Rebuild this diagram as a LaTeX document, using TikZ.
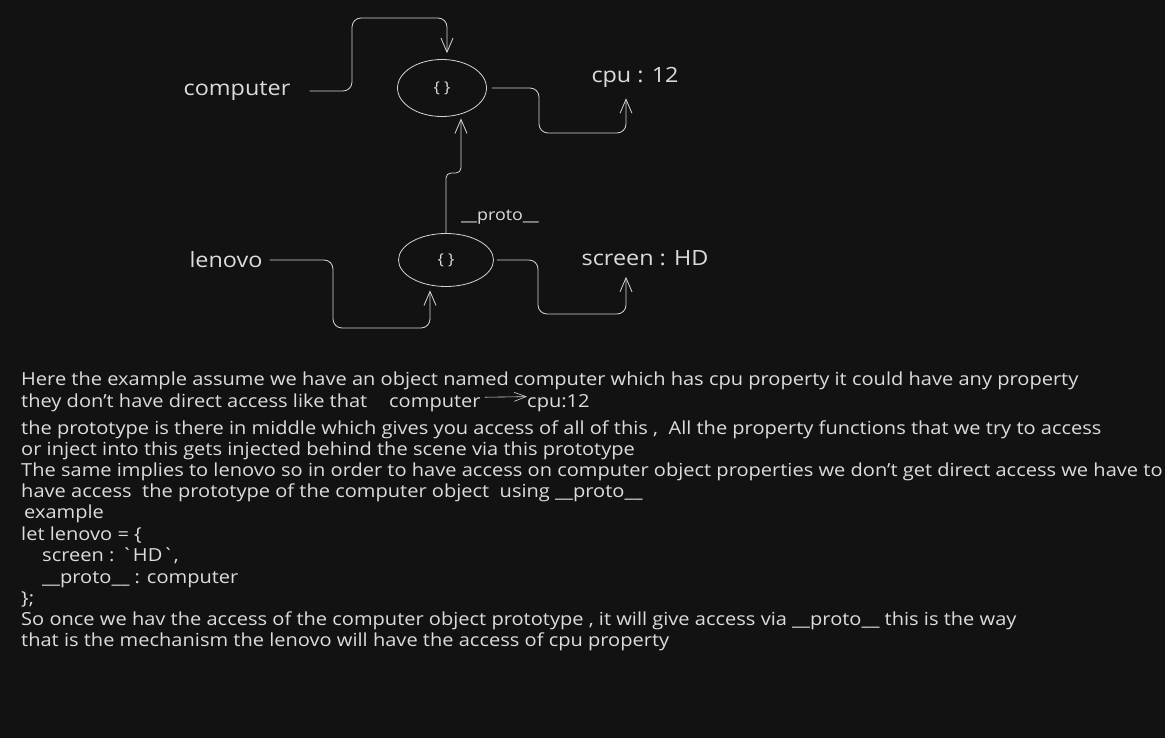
\documentclass[tikz,border=0pt]{standalone}
\usepackage{fontspec}
\setmainfont{Open Sans}[FakeStretch=1.114]
\newfontfamily\rawFont{Open Sans}[FakeStretch=1.114, Ligatures=TeXOff]
\usepackage{tikz}
\usetikzlibrary{shapes.geometric, arrows.meta, positioning}
\definecolor{fondSombre}{HTML}{121212}
\definecolor{traitClair}{HTML}{D4D4D4}
\definecolor{texteClair}{HTML}{DCDCDC}

\begin{document}
\begin{tikzpicture}[
  x=1pt, y=-1pt,
  obj/.style={ellipse, draw=traitClair, line width=0.8pt,
    minimum width=89pt, minimum height=57pt, inner sep=0pt,
    font=\fontsize{15}{17}\selectfont, text=texteClair},
  big/.style={font=\fontsize{21}{25}\selectfont, text=texteClair, inner sep=0pt},
  para/.style={font=\fontsize{18}{21}\selectfont, text=texteClair,
    inner sep=0pt, anchor=base west},
  link/.style={draw=traitClair, line width=0.8pt, rounded corners=9pt,
    -{Straight Barb[length=14pt,width=12pt]}},
  smallLink/.style={draw=traitClair, line width=0.6pt,
    -{Straight Barb[length=12pt,width=9pt]}},
]
\fill[fondSombre] (0,0) rectangle (1165,738);
% the two objects
\node[obj] (compObj) at (442,88) {\{\ \}};
\node[obj, minimum width=95pt, minimum height=53pt] (lenObj) at (446,260) {\{\ \}};
\node[big] (computer) at (237,91)  {computer};
\node[big] (cpu)      at (635,77)  {cpu : 12};
\node[big] (lenovo)   at (226,260) {lenovo};
\node[big] (screen)   at (645,258) {screen : HD};
\node[font=\fontsize{16}{20}\selectfont, text=texteClair, inner sep=0pt]
  (protoLbl) at (500,217) {\_\_proto\_\_};
\draw[link] ([xshift=19pt]computer.east) -| (352,18)
  -| ([xshift=5pt,yshift=6pt]compObj.north);
\draw[link] ([xshift=5pt]compObj.east) -| (539,133)
  -| ([xshift=-9pt,yshift=-11pt]cpu.south);
\draw[link, rounded corners=5pt] (lenObj.north) |- (461,173)
  -- ([xshift=19pt,yshift=-1.5pt]compObj.south);
\draw[link] ([xshift=7pt]lenovo.east) -| (333,328)
  -| ([xshift=-16pt,yshift=-3.5pt]lenObj.south);
\draw[link] ([xshift=3pt]lenObj.east) -| (538,314)
  -| ([xshift=-19pt,yshift=-11pt]screen.south);
% the notes
\node[para] (t1)  at (21,385) {Here the example assume we have an object named computer which has cpu property it could have any property};
\node[para] (t2)  at (21,407) {they don't have direct access like that};
\node[para] (compTxt) at (389,407) {computer};
\node[para] (cpuTxt)  at (527,407) {cpu:12};
\draw[smallLink] ([xshift=4pt,yshift=6pt]compTxt.east) -- ([yshift=6pt]cpuTxt.west);
\node[para] (t3)  at (21,434) {the prototype is there in middle which gives you access of all of this ,\ \ All the property functions that we try to access};
\node[para] (t4)  at (21,455) {or inject into this gets injected behind the scene via this prototype};
\node[para] (t5)  at (21,476) {The same implies to lenovo so in order to have access on computer object properties we don't get direct access we have to};
\node[para] (t6)  at (21,497) {have access\ \ the prototype of the computer object\ \ using \_\_proto\_\_};
\node[para] (t7)  at (24,518) {example};
\node[para] (t8)  at (21,540) {let lenovo = \{};
\node[para] (t9)  at (42,561) {screen : {\rawFont `HD`},};
\node[para] (t10) at (42,583) {\_\_proto\_\_ : computer};
\node[para] (t11) at (21,604) {\};};
\node[para] (t12) at (21,625) {So once we hav the access of the computer object prototype , it will give access via \_\_proto\_\_ this is the way};
\node[para] (t13) at (21,646) {that is the mechanism the lenovo will have the access of cpu property};
\end{tikzpicture}
\end{document}
